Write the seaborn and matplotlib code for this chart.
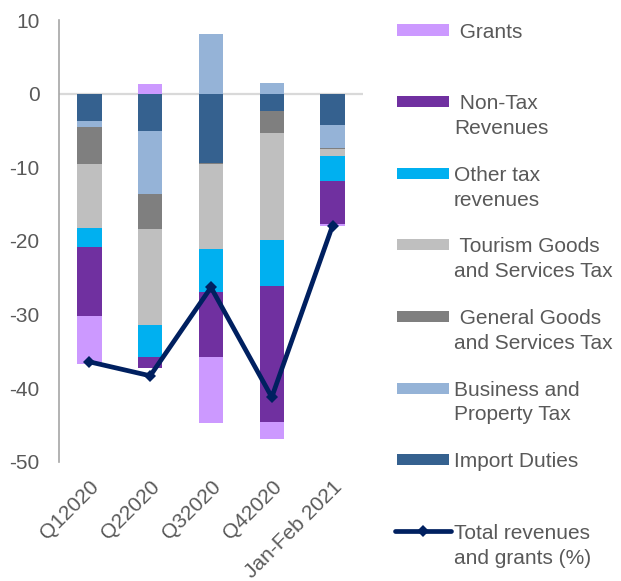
import numpy as np
import pandas as pd
import matplotlib
matplotlib.use("Agg")
import matplotlib.pyplot as plt
from matplotlib.patches import Rectangle
from matplotlib.lines import Line2D
import seaborn as sns

# ---------------- data ----------------
periods = ["Q12020", "Q22020", "Q32020", "Q42020", "Jan-Feb 2021"]
import_duties = [-3.7, -5.1, -9.4, -2.4, -4.3]
business_property = [-0.8, -8.5, 8.1, 1.5, -3.1]
general_gst = [-5.1, -4.8, -0.1, -3.0, -0.1]
tourism_gst = [-8.6, -13.0, -11.6, -14.4, -0.9]
other_tax = [-2.6, -4.3, -5.8, -6.3, -3.5]
non_tax = [-9.4, -1.6, -8.9, -18.5, -5.8]
grants = [-6.5, 1.3, -8.9, -2.3, -0.3]
total = [-36.4, -38.3, -26.3, -41.2, -17.9]
y_ticks = [10, 0, -10, -20, -30, -40, -50]

# stacking order (from zero outward)
series_names = ["Import Duties", "Business and Property Tax", "General Goods and Services Tax",
                "Tourism Goods and Services Tax", "Other tax revenues", "Non-Tax Revenues", "Grants"]
series_vals = [import_duties, business_property, general_gst, tourism_gst, other_tax, non_tax, grants]
series_colors = ["#35618F", "#95B3D7", "#7F7F7F", "#BFBFBF", "#00B0F0", "#7030A0", "#CC99FF"]

# ---------------- style ----------------
sns.set_theme(style="white")
plt.rcParams["font.family"] = ["Liberation Sans", "DejaVu Sans"]
txt_color = "#595959"
FS = 15

W, H = 621, 581
fig = plt.figure(figsize=(W / 100, H / 100), dpi=100)
ax = fig.add_axes([59 / W, 1 - 462 / H, (363 - 59) / W, (462 - 20) / H])

# cumulative stacks (negatives and positives separately)
vals = np.array(series_vals, dtype=float)
neg_cum = np.cumsum(np.where(vals < 0, vals, 0), axis=0)
pos_cum = np.cumsum(np.where(vals > 0, vals, 0), axis=0)

for k in range(len(series_names) - 1, -1, -1):
    for cum in (neg_cum, pos_cum):
        df = pd.DataFrame({"period": periods, "value": cum[k]})
        sns.barplot(data=df, x="period", y="value", order=periods, color=series_colors[k],
                    saturation=1, width=0.4, errorbar=None, ax=ax, zorder=2, linewidth=0)

# zero line
ax.axhline(0, color="#D9D9D9", lw=1.6, zorder=1)

# total line
df_tot = pd.DataFrame({"x": np.arange(len(periods)), "total": total})
sns.lineplot(data=df_tot, x="x", y="total", color="#002060", lw=3.4, marker="D",
             markersize=6, markeredgewidth=0, ax=ax, zorder=5)

ax.set_xlim(-0.5, len(periods) - 0.5)
ax.set_ylim(-50, 10)
ax.set_yticks(y_ticks)
ax.set_yticklabels([str(t) for t in y_ticks])
ax.set_xticks(np.arange(len(periods)))
ax.set_xticklabels(periods, rotation=45, ha="right", rotation_mode="anchor")
ax.set_xlabel("")
ax.set_ylabel("")
ax.tick_params(axis="both", length=0, labelsize=FS, labelcolor=txt_color)
ax.tick_params(axis="y", pad=14)
ax.tick_params(axis="x", pad=11)
for s in ["top", "right", "bottom"]:
    ax.spines[s].set_visible(False)
ax.spines["left"].set_color("#A6A6A6")
ax.spines["left"].set_linewidth(1.2)
ax.grid(False)

# ---------------- legend (manual) ----------------
legend_items = [
    ([" Grants"], "#CC99FF", "patch"),
    ([" Non-Tax", "Revenues"], "#7030A0", "patch"),
    (["Other tax", "revenues"], "#00B0F0", "patch"),
    ([" Tourism Goods", "and Services Tax"], "#BFBFBF", "patch"),
    ([" General Goods", "and Services Tax"], "#7F7F7F", "patch"),
    (["Business and", "Property Tax"], "#95B3D7", "patch"),
    (["Import Duties"], "#35618F", "patch"),
    (["Total revenues", "and grants (%)"], "#002060", "line"),
]


def fx(x):
    return x / W


def fy(y):
    return 1 - y / H


for i, (lines, col, kind) in enumerate(legend_items):
    yc = 30 + 71.6 * i
    if kind == "patch":
        fig.add_artist(Rectangle((fx(397), fy(yc + 5.5)), (449 - 397) / W, 11 / H,
                                 transform=fig.transFigure, facecolor=col, edgecolor="none"))
    else:
        fig.add_artist(Line2D([fx(395), fx(451)], [fy(yc), fy(yc)], transform=fig.transFigure,
                              color=col, lw=3.4, solid_capstyle="round"))
        fig.add_artist(Line2D([fx(423)], [fy(yc)], transform=fig.transFigure, color=col,
                              marker="D", markersize=6, markeredgewidth=0))
    for j, line in enumerate(lines):
        fig.text(fx(454), fy(yc + 7.5 + 25 * j), line, fontsize=FS, color=txt_color,
                 ha="left", va="baseline")

fig.savefig("out.png", dpi=100)
